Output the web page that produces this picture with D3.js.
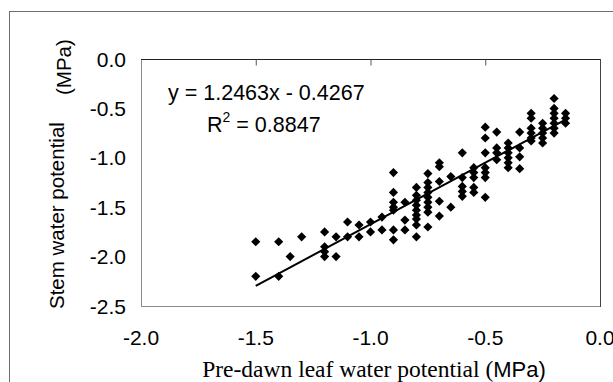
<!DOCTYPE html>
<html>
<head>
<meta charset="utf-8">
<script src="https://cdn.jsdelivr.net/npm/d3@7"></script>
<style>
  body { margin: 0; background: #fff; }
  svg { display: block; }
</style>
</head>
<body>
<div id="chart"></div>
<script>
// pre-dawn leaf water potential (x) with the stem readings taken at that value (y)
const leafPotential = [-1.5, -1.4, -1.35, -1.3, -1.2, -1.15, -1.1, -1.05, -1.0, -0.95, -0.9, -0.85, -0.8,
  -0.75, -0.7, -0.65, -0.6, -0.55, -0.5, -0.45, -0.4, -0.35, -0.3, -0.25, -0.2, -0.15]
const stemPotential = [
  [-1.85, -2.2],
  [-1.85, -2.2],
  [-2.0],
  [-1.8],
  [-1.75, -1.9, -1.95, -2.0],
  [-1.8, -2.0],
  [-1.65, -1.8],
  [-1.68, -1.8],
  [-1.65, -1.75],
  [-1.6, -1.73],
  [-1.15, -1.35, -1.45, -1.5, -1.53, -1.73, -1.83],
  [-1.45, -1.63, -1.73],
  [-1.3, -1.38, -1.43, -1.48, -1.53, -1.58, -1.62, -1.68, -1.8],
  [-1.16, -1.25, -1.3, -1.35, -1.4, -1.45, -1.5, -1.55, -1.7],
  [-1.05, -1.09, -1.24, -1.44, -1.59],
  [-1.19, -1.5],
  [-0.95, -1.2, -1.29, -1.34, -1.39],
  [-1.1, -1.15, -1.2, -1.3, -1.35],
  [-0.69, -0.8, -0.95, -1.1, -1.15, -1.2, -1.4],
  [-0.74, -0.9, -0.95, -1.02],
  [-0.85, -0.9, -0.95, -1.0, -1.05, -1.1],
  [-0.74, -0.9, -0.99, -1.11],
  [-0.55, -0.6, -0.7, -0.75, -0.8, -0.83],
  [-0.65, -0.7, -0.75, -0.8, -0.85],
  [-0.4, -0.5, -0.55, -0.6, -0.65, -0.7, -0.75],
  [-0.55, -0.6, -0.65]
]
const xTicks = [-2.0, -1.5, -1.0, -0.5, 0.0]
const yTicks = [0.0, -0.5, -1.0, -1.5, -2.0, -2.5]
// fitted line from the chart
const slope = 1.2463, intercept = -0.4267
const fitRange = [-1.5, -0.15]

const width = 613, height = 382
const plot = {left: 141, right: 600, top: 59, bottom: 306}

const svg = d3.select("#chart")
  .append("svg")
    .attr("width", width)
    .attr("height", height)

// outer chart frame
svg.append("rect")
  .attr("x", 9.5).attr("y", 11.5)
  .attr("width", width).attr("height", height)
  .attr("fill", "none")
  .attr("stroke", "#6e6e6e")

const x = d3.scaleLinear().domain([-2, 0]).range([plot.left, plot.right])
const y = d3.scaleLinear().domain([-2.5, 0]).range([plot.bottom, plot.top])

// plot area border
svg.append("rect")
  .attr("x", plot.left + 0.5).attr("y", plot.top + 0.5)
  .attr("width", plot.right - plot.left).attr("height", plot.bottom - plot.top)
  .attr("fill", "none")
  .attr("stroke", "#8a8a8a")
svg.append("line")
  .attr("x1", plot.left).attr("x2", plot.right + 1)
  .attr("y1", plot.top + 0.5).attr("y2", plot.top + 0.5)
  .attr("stroke", "#222")
svg.append("line")
  .attr("x1", plot.right + 0.5).attr("x2", plot.right + 0.5)
  .attr("y1", plot.top).attr("y2", plot.bottom + 1)
  .attr("stroke", "#444")

// x axis crosses at y = 0 (top edge), labels sit low
svg.append("g")
  .attr("transform", `translate(0,${plot.top + 0.5})`)
  .call(d3.axisBottom(x).tickValues(xTicks.slice(1, -1)).tickSize(6).tickFormat(""))
  .call(g => g.select(".domain").remove())
  .call(g => g.selectAll("line").attr("stroke", "#555"))

const fmt = d => d.toFixed(1)

svg.append("g")
  .selectAll("text")
  .data(xTicks)
  .join("text")
    .attr("x", d => x(d))
    .attr("y", 345)
    .attr("text-anchor", "middle")
    .style("font-family", "'Liberation Sans', Arial, sans-serif")
    .style("font-size", "21px")
    .text(fmt)

svg.append("g")
  .selectAll("text")
  .data(yTicks)
  .join("text")
    .attr("x", 126)
    .attr("y", d => y(d) + 7.5)
    .attr("text-anchor", "end")
    .style("font-family", "'Liberation Sans', Arial, sans-serif")
    .style("font-size", "21px")
    .text(fmt)

// axis titles
const xTitle = svg.append("text")
  .attr("x", 374).attr("y", 377)
  .attr("text-anchor", "middle")
  .style("font-size", "23.5px")
xTitle.append("tspan")
  .style("font-family", "'Liberation Serif', 'Times New Roman', serif")
  .text("Pre-dawn leaf water potential (")
xTitle.append("tspan")
  .style("font-family", "'Liberation Sans', Arial, sans-serif")
  .style("font-size", "22px")
  .text("MPa)")

svg.append("text")
  .attr("transform", "translate(64,309) rotate(-90)")
  .style("font-family", "'Liberation Sans', Arial, sans-serif")
  .style("font-size", "20.5px")
  .text("Stem water potential")
svg.append("text")
  .attr("transform", "translate(71,95) rotate(-90)")
  .style("font-family", "'Liberation Sans', Arial, sans-serif")
  .style("font-size", "20.5px")
  .text("(MPa)")

// points
const points = leafPotential.flatMap((lx, i) => stemPotential[i].map(sy => [lx, sy]))
svg.append("g")
  .selectAll("path")
  .data(points)
  .join("path")
    .attr("transform", d => `translate(${x(d[0])},${y(d[1])}) rotate(45)`)
    .attr("d", d3.symbol(d3.symbolSquare, 42))
    .attr("fill", "#000")

// trend line
const line = d3.line().x(d => x(d)).y(d => y(slope * d + intercept))
svg.append("path")
  .attr("d", line(fitRange))
  .attr("fill", "none")
  .attr("stroke", "#000")
  .attr("stroke-width", 2)

// regression text
const eq = svg.append("g")
  .style("font-family", "'Liberation Sans', Arial, sans-serif")
  .style("font-size", "21.5px")
eq.append("text").attr("x", 168).attr("y", 100).text(`y = ${slope}x - ${Math.abs(intercept)}`)
const r2 = eq.append("text").attr("x", 207).attr("y", 132)
r2.append("tspan").text("R")
r2.append("tspan").attr("dy", -10).style("font-size", "14px").text("2")
r2.append("tspan").attr("dy", 10).text(" = 0.8847")
</script>
</body>
</html>
